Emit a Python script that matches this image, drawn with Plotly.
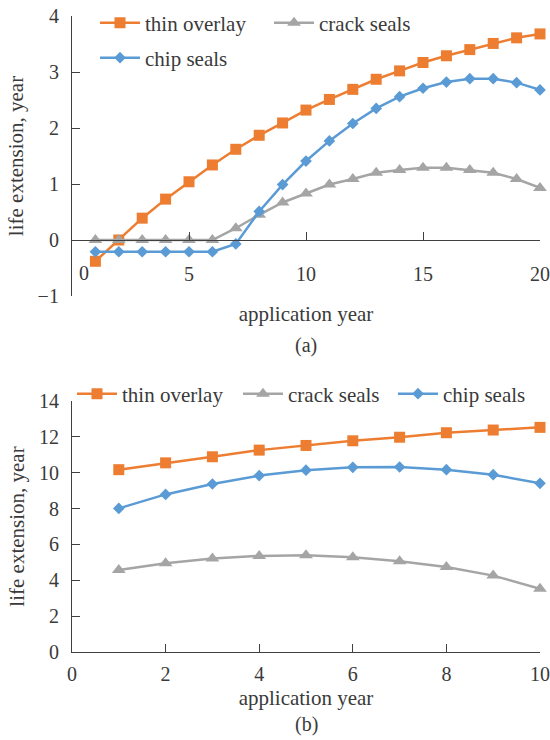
import plotly.graph_objects as go

# ---- data (a) ----
years_a = list(range(1, 21))
thin_overlay_a = [-0.38, 0.00, 0.39, 0.73, 1.04, 1.34, 1.62, 1.87, 2.09, 2.32,
                  2.51, 2.69, 2.87, 3.02, 3.17, 3.29, 3.40, 3.51, 3.61, 3.68]
crack_seals_a = [0.00, 0.00, 0.00, 0.00, 0.00, 0.00, 0.21, 0.45, 0.67, 0.83,
                 0.99, 1.09, 1.20, 1.25, 1.29, 1.29, 1.25, 1.20, 1.09, 0.93]
chip_seals_a = [-0.21, -0.21, -0.21, -0.21, -0.21, -0.21, -0.07, 0.51, 0.99, 1.41,
                1.77, 2.08, 2.35, 2.56, 2.71, 2.82, 2.88, 2.88, 2.81, 2.68]

# ---- data (b) ----
years_b = list(range(1, 11))
thin_overlay_b = [10.17, 10.55, 10.89, 11.26, 11.52, 11.78, 11.98, 12.23, 12.38, 12.53]
crack_seals_b = [4.57, 4.95, 5.21, 5.36, 5.40, 5.28, 5.06, 4.74, 4.26, 3.53]
chip_seals_b = [8.01, 8.79, 9.37, 9.84, 10.14, 10.30, 10.32, 10.17, 9.89, 9.41]

xticks_a = [5, 10, 15, 20]
yticks_a = [-1, 0, 1, 2, 3, 4]
xticks_b = [0, 2, 4, 6, 8, 10]
yticks_b = [0, 2, 4, 6, 8, 10, 12, 14]

ORANGE = "#ED7D31"
GRAY = "#A5A5A5"
BLUE = "#5B9BD5"
TXT = "#3a3a3a"
FONT = "Liberation Serif, Times New Roman, serif"

W, H = 550, 740
ML, MR, MT, MB = 72, 10, 16, 88
PH = H - MT - MB  # plot area height


def py(pix):
    """pixel y (from top) -> paper fraction"""
    return (H - MB - pix) / PH


def px(pix):
    return (pix - ML) / (W - ML - MR)


fig = go.Figure()

series_a = [
    ("thin overlay", thin_overlay_a, ORANGE, "square", 11, "legend"),
    ("crack seals", crack_seals_a, GRAY, "triangle-up", 12, "legend2"),
    ("chip seals", chip_seals_a, BLUE, "diamond", 9, "legend3"),
]
for name, vals, col, sym, sz, lg in series_a:
    fig.add_trace(go.Scatter(
        x=years_a, y=vals, name=name, mode="lines+markers",
        line=dict(color=col, width=2.5),
        marker=dict(color=col, symbol=sym, size=sz),
        xaxis="x", yaxis="y", legend=lg, cliponaxis=False))

series_b = [
    ("thin overlay", thin_overlay_b, ORANGE, "square", 11, "legend4"),
    ("crack seals", crack_seals_b, GRAY, "triangle-up", 12, "legend5"),
    ("chip seals", chip_seals_b, BLUE, "diamond", 9, "legend6"),
]
for name, vals, col, sym, sz, lg in series_b:
    fig.add_trace(go.Scatter(
        x=years_b, y=vals, name=name, mode="lines+markers",
        line=dict(color=col, width=2.5),
        marker=dict(color=col, symbol=sym, size=sz),
        xaxis="x2", yaxis="y2", legend=lg, cliponaxis=False))

axis_common = dict(showline=True, linecolor="#404040", linewidth=1.2,
                   ticks="inside", ticklen=8, tickcolor="#404040", tickwidth=1.2,
                   showgrid=False, zeroline=False, automargin=False,
                   tickfont=dict(family=FONT, size=20, color=TXT))


def leg(xpix, ypix):
    return dict(orientation="h", x=px(xpix - 5), y=py(ypix), xanchor="left",
                yanchor="middle", itemwidth=40, bgcolor="rgba(0,0,0,0)",
                font=dict(family=FONT, size=21, color=TXT))


fig.update_layout(
    width=W, height=H,
    margin=dict(l=ML, r=MR, t=MT, b=MB, autoexpand=False),
    plot_bgcolor="white", paper_bgcolor="white",
    font=dict(family=FONT, size=21, color=TXT),
    xaxis=dict(axis_common, domain=[0, 1], range=[0, 20], tickvals=xticks_a,
               anchor="free", position=py(240), ticklabelstandoff=16,
               title=dict(text="application year", font=dict(family=FONT, size=21), standoff=22)),
    yaxis=dict(axis_common, domain=[py(296), 1], range=[-1, 4], tickvals=yticks_a,
               anchor="x", ticklabelstandoff=8,
               title=dict(text="life extension, year", font=dict(family=FONT, size=21), standoff=8)),
    xaxis2=dict(axis_common, domain=[0, 1], range=[0, 10], tickvals=xticks_b,
                anchor="y2", ticklabelstandoff=4,
                title=dict(text="application year", font=dict(family=FONT, size=21), standoff=6)),
    yaxis2=dict(axis_common, domain=[0, py(401)], range=[0, 14], tickvals=yticks_b,
                anchor="x2", ticklabelstandoff=8,
                title=dict(text="life extension, year", font=dict(family=FONT, size=21), standoff=8)),
    legend=leg(100, 23),
    legend2=leg(274, 23),
    legend3=leg(100, 58),
    legend4=leg(77, 394),
    legend5=leg(243, 394),
    legend6=leg(398, 394),
    showlegend=True,
)

fig.add_annotation(text="0", x=0.5, y=py(273), xref="x", yref="paper",
                   showarrow=False, font=dict(family=FONT, size=20, color=TXT),
                   xanchor="center", yanchor="middle")
fig.add_annotation(text="(a)", x=px(306), y=py(345), xref="paper", yref="paper",
                   showarrow=False, font=dict(family=FONT, size=20, color=TXT),
                   xanchor="center", yanchor="middle")
fig.add_annotation(text="(b)", x=px(306), y=py(724), xref="paper", yref="paper",
                   showarrow=False, font=dict(family=FONT, size=20, color=TXT),
                   xanchor="center", yanchor="middle")

fig.write_html("out.html", config={"displayModeBar": False},
               post_script="document.body.style.margin='0';document.body.style.overflow='hidden';")
